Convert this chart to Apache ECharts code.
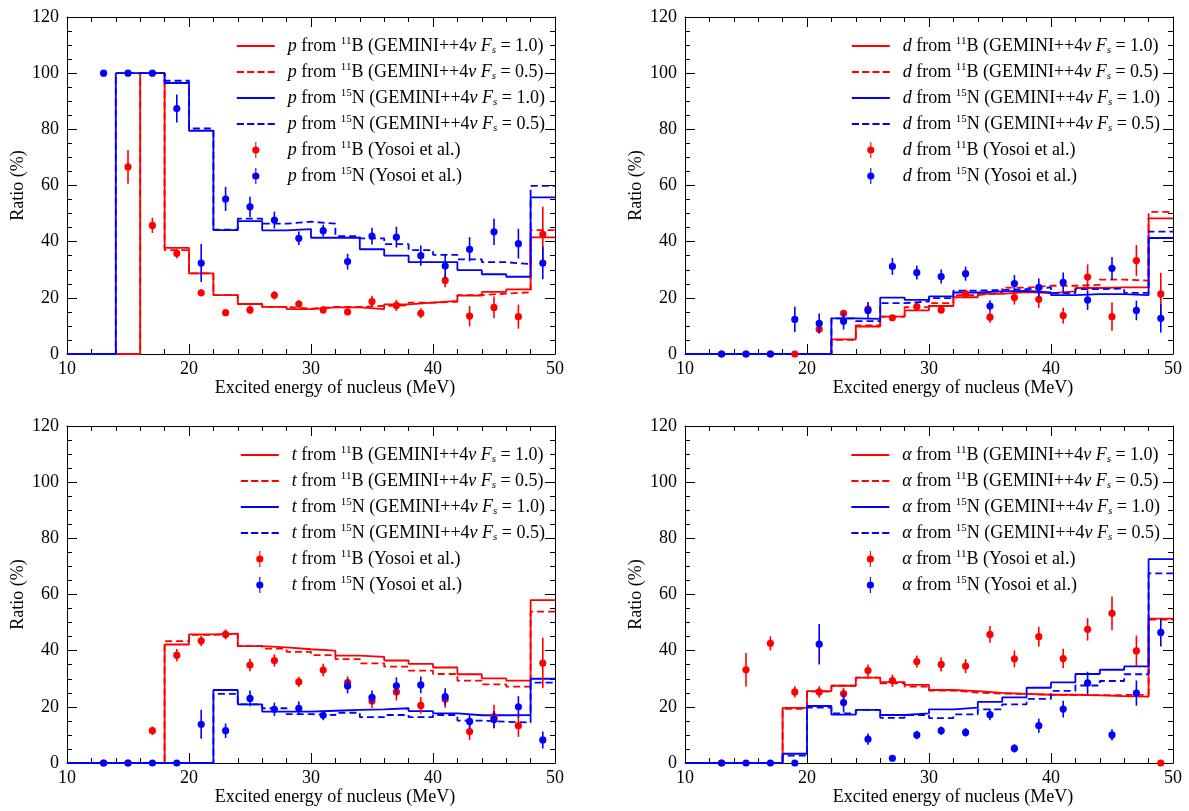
<!DOCTYPE html>
<html>
<head>
<meta charset="utf-8">
<script src="https://cdn.jsdelivr.net/npm/echarts@6/dist/echarts.min.js"></script>
<style>
html,body{margin:0;padding:0;background:#fff;}
#chart{width:1189px;height:811px;}
</style>
</head>
<body>
<div id="chart"></div>
<script>
// ---------- data ----------
const binLeft = [10,12,14,16,18,20,22,24,26,28,30,32,34,36,38,40,42,44,46,48];
const xMax = 50;
const pointX = [13,15,17,19,21,23,25,27,29,31,33,35,37,39,41,43,45,47,49];
const xTicks = [10,20,30,40,50];
const yTicks = [0,20,40,60,80,100,120];

// proton
const pB10 = [0,0,0,100,37.8,28.7,21.0,17.8,16.8,16.0,16.6,16.6,16.0,17.7,18.3,18.9,20.8,22.1,23.0,41.5];
const pB05 = [0,0,0,100,37.0,28.7,21.0,17.8,16.8,16.1,16.8,16.8,17.1,17.3,18.3,18.6,21.0,21.5,22.0,44.1];
const pN10 = [0,0,100,100,96.5,79.5,44.1,47.3,44.0,44.5,41.4,41.4,37.3,35.0,32.7,32.7,29.9,28.4,27.5,55.8];
const pN05 = [0,0,100,100,97.3,80.3,44.3,48.2,46.4,47.1,46.4,42.0,41.2,39.1,37.0,35.3,33.7,32.7,32.0,59.9];
const pBexp = [null,66.6,45.8,35.8,21.8,14.7,15.7,20.9,17.8,15.7,15.0,18.7,17.3,14.5,26.2,13.5,16.6,13.3,42.6];
const pBerr = [0,6.0,2.7,1.7,1.2,0.8,1.5,1.5,1.3,1.2,1.2,2.0,2.0,1.8,2.4,3.6,3.9,4.3,9.8];
const pNexp = [100,100,100,87.4,32.4,55.2,52.4,47.7,41.2,43.9,32.9,42.0,41.6,35.0,31.3,37.3,43.5,39.3,32.4];
const pNerr = [0,0,0,5.0,6.8,4.3,3.6,3.0,2.4,2.1,2.8,3.0,3.7,3.6,4.3,4.3,4.7,5.3,5.8];

// deuteron
const dB10 = [0,0,0,0,0,0,5.2,9.8,13.3,15.5,17.1,20.2,21.4,22.0,21.7,22.3,23.5,23.7,23.7,48.3];
const dB05 = [0,0,0,0,0,0,5.0,10.2,13.3,16.7,18.1,21.0,21.7,23.6,24.3,24.3,24.6,26.5,26.1,50.6];
const dN10 = [0,0,0,0,0,0,12.7,12.5,20.1,19.3,20.5,21.9,22.3,22.5,21.9,21.0,21.3,21.3,21.0,41.3];
const dN05 = [0,0,0,0,0,0,12.7,11.7,18.1,18.7,19.9,22.6,22.8,23.1,23.7,21.7,23.1,23.3,21.8,43.6];
const dBexp = [0,0,0,0,8.8,14.5,16.0,12.9,16.9,15.7,21.4,13.1,20.1,19.5,13.7,27.4,13.3,33.3,21.4];
const dBerr = [0,0,0,0,1.5,1.2,1.5,1.0,1.2,1.3,1.5,2.0,2.5,3.0,2.8,4.5,5.0,5.5,7.5];
const dNexp = [0,0,0,12.3,10.9,11.7,15.5,31.2,29.0,27.6,28.6,17.1,25.1,23.7,25.5,19.2,30.5,15.5,12.7];
const dNerr = [0,0,0,4.5,3.5,3.0,3.0,3.0,2.5,2.5,2.5,2.0,3.0,3.2,3.5,3.5,4.0,3.5,5.0];

// triton
const tB10 = [0,0,0,0,42.2,45.8,46.1,41.6,41.2,40.5,40.0,38.2,37.8,36.5,35.3,34.0,31.6,30.1,29.3,58.0];
const tB05 = [0,0,0,0,43.4,45.6,46.0,41.6,40.7,39.6,38.4,37.0,35.5,34.3,32.9,31.7,29.3,28.0,27.2,53.9];
const tN10 = [0,0,0,0,0,0,26.0,20.9,18.3,18.3,18.6,18.9,19.1,19.5,18.5,17.7,17.0,17.0,17.1,30.0];
const tN05 = [0,0,0,0,0,0,24.6,20.9,19.5,17.4,17.1,17.9,16.3,17.1,16.3,17.1,15.1,14.7,14.4,28.6];
const tBexp = [0,0,11.5,38.4,43.5,45.8,34.9,36.5,28.9,33.1,28.6,22.1,25.3,20.5,22.7,11.2,16.5,13.3,35.6];
const tBerr = [0,0,1.5,2.2,1.8,1.8,2.2,2.2,1.8,2.2,2.2,2.5,3.0,3.0,3.0,3.0,4.2,4.0,9.0];
const tNexp = [0,0,0,0,13.8,11.5,23.0,19.1,19.5,17.0,27.4,23.4,27.5,27.8,23.6,14.8,15.5,20.0,8.2];
const tNerr = [0,0,0,0,5.2,2.6,2.8,2.4,2.4,1.8,2.6,2.4,3.0,3.0,3.0,2.6,3.0,3.8,3.0];

// alpha
const aB10 = [0,0,0,0,19.6,25.6,27.5,30.4,28.8,27.8,26.0,25.6,25.0,24.6,24.3,24.3,24.1,23.8,23.6,51.4];
const aB05 = [0,0,0,0,19.3,25.4,27.5,30.4,28.4,27.2,25.8,25.1,24.7,24.6,24.3,24.2,24.2,24.2,24.3,51.1];
const aN10 = [0,0,0,0,3.3,20.3,17.2,18.9,17.1,17.7,19.1,19.7,21.8,23.4,26.8,28.7,31.7,33.2,34.4,72.6];
const aN05 = [0,0,0,0,2.6,19.7,17.7,18.9,16.1,17.1,16.0,17.3,19.1,20.9,22.8,25.7,27.6,29.2,31.6,67.5];
const aBexp = [0,33.2,42.6,25.3,25.3,24.7,32.9,29.3,36.1,35.1,34.5,45.8,37.1,45.0,37.2,47.6,53.3,39.9,0];
const aBerr = [0,6.0,2.5,2.0,2.0,2.0,2.2,2.2,2.2,2.5,2.5,3.0,3.0,3.5,3.5,4.0,6.0,5.5,0];
const aNexp = [0,0,0,0,42.3,21.5,8.5,1.7,10.0,11.5,10.9,17.2,5.2,13.3,19.2,28.5,10.0,24.9,46.5];
const aNerr = [0,0,0,0,7.2,3.5,2.0,1.0,1.5,1.5,1.5,2.0,1.5,2.5,3.0,4.0,2.0,4.5,5.0];

// ---------- build ----------
const RED = '#ff0000', BLUE = '#0000ff';
const FONT = "'Liberation Serif', 'DejaVu Serif', serif";
const panels = [
  {sym:'p', h:[pB10,pB05,pN10,pN05], e:[[pBexp,pBerr],[pNexp,pNerr]]},
  {sym:'d', h:[dB10,dB05,dN10,dN05], e:[[dBexp,dBerr],[dNexp,dNerr]]},
  {sym:'t', h:[tB10,tB05,tN10,tN05], e:[[tBexp,tBerr],[tNexp,tNerr]]},
  {sym:'α', h:[aB10,aB05,aN10,aN05], e:[[aBexp,aBerr],[aNexp,aNerr]]}
];
const grids = [
  {left:67, top:17, width:488, height:337},
  {left:685, top:17, width:488, height:337},
  {left:67, top:426, width:488, height:337},
  {left:685, top:426, width:488, height:337}
];
const legendPos = [
  {right:644, top:36},{right:29, top:36},{right:644, top:445},{right:29, top:445}
];

function histData(vals){
  const d = binLeft.map((x,i)=>[x, vals[i]]);
  d.push([xMax, vals[vals.length-1]]);
  return d;
}
function pointData(vals, errs){
  const d = [];
  pointX.forEach((x,i)=>{ if (vals[i] !== null) d.push([x, vals[i], errs[i]]); });
  return d;
}
const ICON_SOLID = 'path://M0,0h38v1.8h-38z';
const ICON_DASH = 'path://M0,0h7v1.8h-7z M10,0h7v1.8h-7z M20,0h7v1.8h-7z M30,0h7v1.8h-7z';
const ICON_PT = 'path://M9.3,0 L10.7,0 L10.7,20 L9.3,20 Z M10,5.5 A4.5,4.5 0 1,1 10,14.5 A4.5,4.5 0 1,1 10,5.5 Z';

function richName(name){
  const m = name.match(/^(\S+) from (\d+)([A-Z]) \((.*)\)$/);
  let inner = m[4];
  if (inner.indexOf('GEMINI') === 0) {
    const fs = inner.match(/= ([\d.]+)/)[1];
    inner = 'GEMINI++4{i|ν} {i|F}{sub|s} = ' + fs;
  }
  return '{i|' + m[1] + '} from {sup|' + m[2] + '}' + m[3] + ' (' + inner + ')';
}

const xAxes = [], yAxes = [], series = [], legends = [];
const tickStyle = {show:true, inside:true, length:10, lineStyle:{color:'#000', width:1}};
const minorStyle = {show:true, splitNumber:5, length:5, lineStyle:{color:'#000', width:1}};
const labelStyle = {fontFamily:FONT, fontSize:18, color:'#000', fontWeight:'normal'};
const labelRich = {n:{fontFamily:FONT, fontSize:18, color:'#000'}};
panels.forEach((pn, gi)=>{
  const base = {gridIndex:gi, type:'value', min:10, max:50, interval:10,
    axisLine:{show:true, onZero:false, lineStyle:{color:'#000', width:1}},
    axisTick:tickStyle, minorTick:minorStyle, splitLine:{show:false}};
  xAxes.push(Object.assign({}, base, {position:'bottom',
    axisLabel:Object.assign({show:true, margin:6, rich:labelRich,
      formatter:v=> xTicks.indexOf(v)>=0 ? '{n|' + v + '}' : ''}, labelStyle),
    name:'Excited energy of nucleus (MeV)', nameLocation:'middle', nameGap:22,
    nameTextStyle:Object.assign({padding:[0,0,0,48]}, labelStyle)}));
  xAxes.push(Object.assign({}, base, {position:'top', axisLabel:{show:false}}));
  const ybase = {gridIndex:gi, type:'value', min:0, max:120, interval:20,
    axisLine:{show:true, onZero:false, lineStyle:{color:'#000', width:1}},
    axisTick:tickStyle, minorTick:Object.assign({}, minorStyle, {splitNumber:4}), splitLine:{show:false}};
  yAxes.push(Object.assign({}, ybase, {position:'left',
    axisLabel:Object.assign({show:true, margin:8, rich:labelRich,
      formatter:v=> yTicks.indexOf(v)>=0 ? '{n|' + v + '}' : ''}, labelStyle),
    name:'Ratio (%)', nameLocation:'middle', nameGap:40,
    nameTextStyle:Object.assign({}, labelStyle)}));
  yAxes.push(Object.assign({}, ybase, {position:'right', axisLabel:{show:false}}));

  const s = pn.sym;
  const names = [
    s+' from 11B (GEMINI++4ν Fs = 1.0)',
    s+' from 11B (GEMINI++4ν Fs = 0.5)',
    s+' from 15N (GEMINI++4ν Fs = 1.0)',
    s+' from 15N (GEMINI++4ν Fs = 0.5)',
    s+' from 11B (Yosoi et al.)',
    s+' from 15N (Yosoi et al.)'
  ];
  const cols = [RED, RED, BLUE, BLUE];
  const dashed = [false, true, false, true];
  pn.h.forEach((vals, k)=>{
    series.push({type:'line', name:names[k], xAxisIndex:2*gi, yAxisIndex:2*gi,
      data:histData(vals), step:'end', symbol:'none', silent:true, animation:false,
      itemStyle:{color:cols[k]},
      lineStyle:{color:cols[k], width:1.8, type: dashed[k] ? [7,4] : 'solid'}, z:2});
  });
  pn.e.forEach((pair, k)=>{
    const col = k===0 ? RED : BLUE;
    series.push({type:'custom', name:names[4+k], xAxisIndex:2*gi, yAxisIndex:2*gi,
      data:pointData(pair[0], pair[1]), clip:false, animation:false,
      itemStyle:{color:col}, encode:{x:0, y:1}, z:3,
      renderItem:(params, api)=>{
        const x = api.value(0), y = api.value(1), e = api.value(2);
        const c = api.coord([x, y]);
        const t = api.coord([x, y+e]);
        const b = api.coord([x, Math.max(0, y-e)]);
        return {type:'group', children:[
          {type:'line', shape:{x1:t[0], y1:t[1], x2:b[0], y2:b[1]}, style:{stroke:col, lineWidth:1.6}},
          {type:'circle', shape:{cx:c[0], cy:c[1], r:3.6}, style:{fill:col}}
        ]};
      }});
  });
  legends.push(Object.assign({
    orient:'vertical', padding:0, itemGap:6, itemWidth:38, itemHeight:16,
    selectedMode:false, align:'left',
    textStyle:{fontFamily:FONT, fontSize:18, color:'#000', lineHeight:20, padding:[0,0,0,8],
      rich:{
        i:{fontFamily:FONT, fontSize:18, fontStyle:'italic', color:'#000'},
        sup:{fontFamily:FONT, fontSize:11, color:'#000', verticalAlign:'top', lineHeight:11},
        sub:{fontFamily:FONT, fontSize:11, fontStyle:'italic', color:'#000', verticalAlign:'bottom', lineHeight:11}
      }},
    formatter: richName,
    data: names.map((n, k)=>({name:n,
      icon: k<4 ? (dashed[k] ? ICON_DASH : ICON_SOLID) : ICON_PT,
      itemStyle:{color: k<4 ? cols[k] : (k===4 ? RED : BLUE)}}))
  }, legendPos[gi]));
});

const chart = echarts.init(document.getElementById('chart'), null, {renderer:'canvas'});
chart.setOption({
  backgroundColor:'#fff',
  animation:false,
  textStyle:{fontFamily:FONT},
  grid: grids,
  xAxis: xAxes,
  yAxis: yAxes,
  legend: legends,
  series: series
});
</script>
</body>
</html>
